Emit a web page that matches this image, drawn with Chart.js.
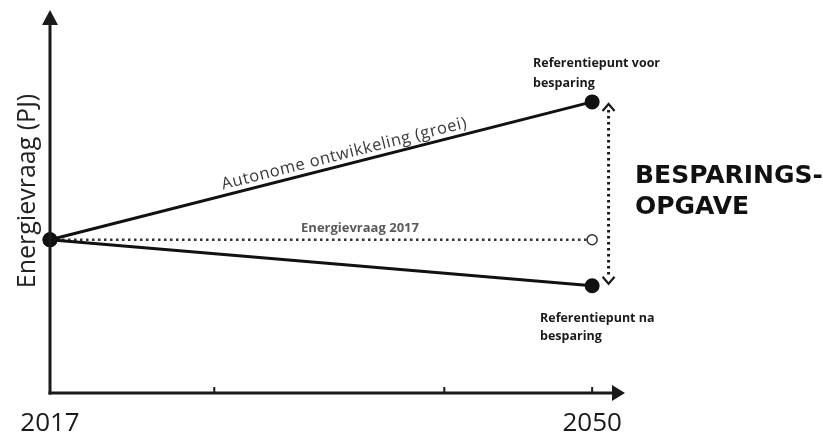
<!DOCTYPE html>
<html>
<head>
<meta charset="utf-8">
<script src="https://cdn.jsdelivr.net/npm/chart.js@4/dist/chart.umd.min.js"></script>
<style>
  body { margin: 0; background: #fff; }
  #wrap { width: 823px; height: 433px; position: relative; }
</style>
</head>
<body>
<div id="wrap"><canvas id="chart"></canvas></div>
<script>
// data (y = energy demand, arbitrary PJ units)
var years = [2017, 2050];
var groei = [40, 76];        // autonome ontwikkeling
var besparing = [40, 28];    // referentiepunt na besparing
var basis = [40, 40];        // energievraag 2017
var tickYears = [2027, 2041, 2050];
var labelYears = ['2017', '2050'];

function pts(vals) {
  return years.map(function (y, i) { return { x: y, y: vals[i] }; });
}

// draws axes with arrows, tick marks, labels and annotations
var schemaPlugin = {
  id: 'schema',
  afterDatasetsDraw: function (chart) {
    var ctx = chart.ctx, xs = chart.scales.x, ys = chart.scales.y;
    var x0 = xs.getPixelForValue(2017), y0 = ys.getPixelForValue(0);
    var xEnd = xs.getPixelForValue(xs.max), yTop = ys.getPixelForValue(ys.max);
    ctx.save();
    ctx.strokeStyle = '#1a1a1a';
    ctx.fillStyle = '#1a1a1a';
    ctx.lineWidth = 3;
    // y axis
    ctx.beginPath();
    ctx.moveTo(x0, y0 + 1.5);
    ctx.lineTo(x0, yTop + 12);
    ctx.stroke();
    ctx.beginPath();
    ctx.moveTo(x0, yTop);
    ctx.lineTo(x0 - 8, yTop + 15);
    ctx.lineTo(x0 + 8, yTop + 15);
    ctx.closePath();
    ctx.fill();
    // x axis
    ctx.beginPath();
    ctx.moveTo(x0 - 1.5, y0);
    ctx.lineTo(xEnd - 10, y0);
    ctx.stroke();
    ctx.beginPath();
    ctx.moveTo(xEnd, y0);
    ctx.lineTo(xEnd - 13, y0 - 8);
    ctx.lineTo(xEnd - 13, y0 + 8);
    ctx.closePath();
    ctx.fill();
    // tick marks
    ctx.lineWidth = 2;
    tickYears.forEach(function (t) {
      var px = xs.getPixelForValue(t);
      ctx.beginPath();
      ctx.moveTo(px, y0);
      ctx.lineTo(px, y0 - 6);
      ctx.stroke();
    });
    // tick labels
    ctx.font = '26px "Open Sans"';
    ctx.textAlign = 'center';
    ctx.textBaseline = 'alphabetic';
    ctx.fillStyle = '#1a1a1a';
    labelYears.forEach(function (l) {
      ctx.fillText(l, xs.getPixelForValue(+l), y0 + 38);
    });
    // y axis title
    ctx.save();
    ctx.translate(35, 191);
    ctx.rotate(-Math.PI / 2);
    ctx.font = '25px "Open Sans"';
    ctx.fillStyle = '#222';
    ctx.fillText('Energievraag (PJ)', 0, 0);
    ctx.restore();

    // dotted double arrow (besparingsopgave)
    var ax = xs.getPixelForValue(2051);
    var aTop = ys.getPixelForValue(groei[1]) + 2;
    var aBot = ys.getPixelForValue(besparing[1]) - 2;
    ctx.setLineDash([2.5, 3.5]);
    ctx.lineWidth = 3;
    ctx.beginPath();
    ctx.moveTo(ax, aTop + 6);
    ctx.lineTo(ax, aBot - 6);
    ctx.stroke();
    ctx.setLineDash([]);
    ctx.lineWidth = 2.2;
    ctx.beginPath();
    ctx.moveTo(ax - 6, aTop + 7);
    ctx.lineTo(ax, aTop);
    ctx.lineTo(ax + 6, aTop + 7);
    ctx.moveTo(ax - 6, aBot - 7);
    ctx.lineTo(ax, aBot);
    ctx.lineTo(ax + 6, aBot - 7);
    ctx.stroke();

    // text along the growth line
    var p1x = xs.getPixelForValue(years[0]), p1y = ys.getPixelForValue(groei[0]);
    var p2x = xs.getPixelForValue(years[1]), p2y = ys.getPixelForValue(groei[1]);
    var ang = Math.atan2(p2y - p1y, p2x - p1x);
    var cx = 347, cy = p1y + (p2y - p1y) * (cx - p1x) / (p2x - p1x);
    ctx.save();
    ctx.translate(cx + 6 * Math.sin(ang), cy - 6 * Math.cos(ang));
    ctx.rotate(ang);
    ctx.font = '16.5px "Open Sans"';
    ctx.letterSpacing = '0.6px';
    ctx.fillStyle = '#3a3a3a';
    ctx.textAlign = 'center';
    ctx.fillText('Autonome ontwikkeling (groei)', 0, 0);
    ctx.restore();

    // label above dotted line
    ctx.font = 'bold 13px "Open Sans"';
    ctx.fillStyle = '#5a5a5a';
    ctx.textAlign = 'center';
    ctx.fillText('Energievraag 2017', 360, 232);

    // reference point labels
    ctx.textAlign = 'left';
    ctx.fillStyle = '#1a1a1a';
    ctx.font = 'bold 12.5px "Open Sans"';
    ctx.fillText('Referentiepunt voor', 533, 67);
    ctx.fillText('besparing', 533, 87);
    ctx.fillText('Referentiepunt na', 540, 322);
    ctx.fillText('besparing', 540, 340);

    // big label
    ctx.font = 'bold 25px "DejaVu Sans"';
    ctx.fillStyle = '#111';
    ctx.fillText('BESPARINGS-', 635, 183);
    ctx.fillText('OPGAVE', 635, 214);
    ctx.restore();
  }
};

var config = {
  type: 'line',
  data: {
    datasets: [{
      label: 'Autonome ontwikkeling (groei)',
      data: pts(groei),
      borderColor: '#111',
      borderWidth: 3,
      pointRadius: [6, 6],
      pointBackgroundColor: '#111',
      pointBorderColor: '#111',
      clip: false
    }, {
      label: 'Referentiepunt na besparing',
      data: pts(besparing),
      borderColor: '#111',
      borderWidth: 3,
      pointRadius: [6, 6],
      pointBackgroundColor: '#111',
      pointBorderColor: '#111',
      clip: false
    }, {
      label: 'Energievraag 2017',
      data: pts(basis),
      borderColor: '#333',
      borderWidth: 2.5,
      borderDash: [2.5, 3.5],
      pointRadius: [0, 5],
      pointBackgroundColor: '#fff',
      pointBorderColor: '#333',
      pointBorderWidth: 1.5,
      clip: false
    }]
  },
  options: {
    responsive: true,
    maintainAspectRatio: false,
    animation: false,
    layout: { padding: { left: 50, right: 198, top: 10, bottom: 40 } },
    scales: {
      x: { type: 'linear', min: 2017, max: 2052, display: false },
      y: { min: 0, max: 100, display: false }
    },
    plugins: {
      legend: { display: false },
      tooltip: { enabled: false }
    }
  },
  plugins: [schemaPlugin]
};

window.onload = function () {
  var ctx = document.getElementById('chart').getContext('2d');
  window.myChart = new Chart(ctx, config);
};
</script>
</body>
</html>
